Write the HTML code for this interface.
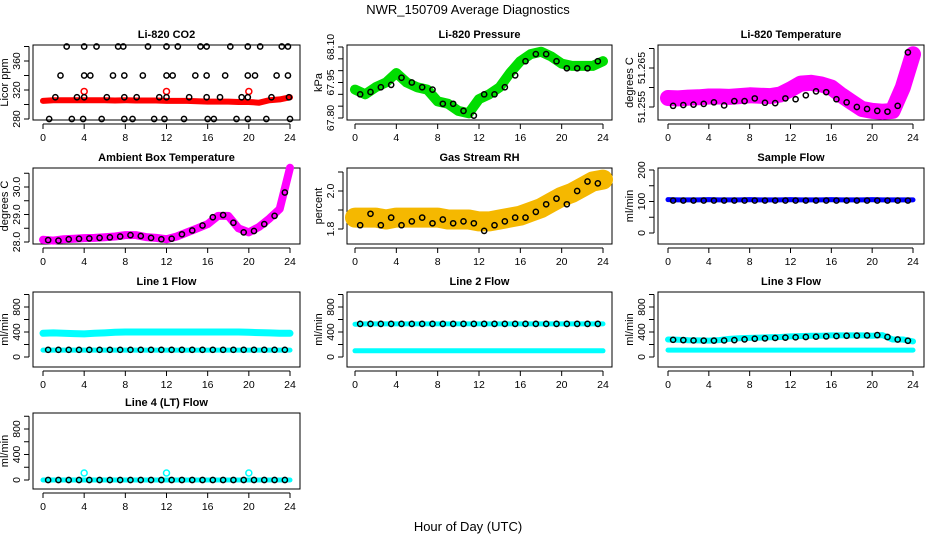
<!DOCTYPE html>
<html><head><meta charset="utf-8"><style>
html,body{margin:0;padding:0;background:#fff;}
svg{display:block;font-family:"Liberation Sans",Arial,sans-serif;}
</style></head><body>
<svg id="fig" width="936" height="540" viewBox="0 0 936 540">
<text x="468" y="14" text-anchor="middle" font-size="13">NWR_150709  Average Diagnostics</text>
<text x="468" y="531" text-anchor="middle" font-size="13">Hour of Day (UTC)</text>
</svg>
<script>
const HALF = [0.5,1.5,2.5,3.5,4.5,5.5,6.5,7.5,8.5,9.5,10.5,11.5,12.5,13.5,14.5,15.5,16.5,17.5,18.5,19.5,20.5,21.5,22.5,23.5];
const FULL = [0,1,2,3,4,5,6,7,8,9,10,11,12,13,14,15,16,17,18,19,20,21,22,23,24];
const xTicks = [0,4,8,12,16,20,24];

const co2Hours = [2.3,4.0,5.2,7.3,7.8,10.2,12.0,13.1,15.3,15.9,18.2,19.9,21.1,23.2,23.8, 1.7,4.0,4.6,6.8,7.9,9.7,12.0,12.6,14.8,15.9,17.7,19.9,20.6,22.7,23.8, 1.2,3.3,4.0,6.2,7.9,9.1,11.3,12.0,14.2,15.9,17.2,19.3,19.9,22.2,23.9, 0.6,2.8,3.9,5.7,7.9,8.7,10.8,11.8,13.7,16.0,16.6,18.8,19.9,21.7,24.0];
const co2Black = [380,380,380,380,380,380,380,380,380,380,380,380,380,380,380, 340,340,340,340,340,340,340,340,340,340,340,340,340,340,340, 310,310,310,310,310,310,310,310,310,310,310,310,310,310,310, 280,280,280,280,280,280,280,280,280,280,280,280,280,280,280];
const co2Band = [305,306,306,306,306,306,306,305.5,306,305.5,305.5,305.5,305,305,305,304.5,304,304,304,303.5,303.5,302.5,306,307,310];
const co2OutHours = [4,12,20];
const co2Out = [318,318,318];

const presBand = [67.92,67.90,67.93,67.95,67.99,67.95,67.93,67.92,67.87,67.86,67.83,67.82,67.88,67.90,67.93,67.99,68.04,68.07,68.08,68.06,68.03,68.02,68.02,68.02,68.04];
const presBlack = [67.90,67.91,67.93,67.94,67.97,67.95,67.93,67.92,67.86,67.86,67.83,67.81,67.90,67.90,67.93,67.98,68.04,68.07,68.07,68.04,68.01,68.01,68.01,68.04];

const tempBand = [51.2573,51.2572,51.2574,51.2575,51.2577,51.2577,51.2576,51.2578,51.258,51.2579,51.2578,51.2582,51.2595,51.261,51.2612,51.2608,51.260,51.258,51.2562,51.2545,51.254,51.2538,51.254,51.260,51.2685];
const tempBlack = [51.2553,51.2555,51.2556,51.2558,51.2562,51.2554,51.2565,51.2565,51.2572,51.2561,51.2560,51.2572,51.2570,51.2580,51.2590,51.2588,51.2570,51.2562,51.2550,51.2545,51.2540,51.2538,51.2553,51.2690];

const ambBand = [28.08,28.05,28.1,28.12,28.14,28.15,28.17,28.2,28.25,28.25,28.18,28.15,28.1,28.2,28.35,28.5,28.65,28.95,28.95,28.5,28.35,28.55,28.85,29.2,30.7];
const ambBlack = [28.07,28.05,28.1,28.12,28.13,28.15,28.17,28.2,28.25,28.22,28.15,28.1,28.12,28.28,28.42,28.6,28.9,28.98,28.7,28.35,28.4,28.65,28.95,29.8];

const rhBand = [1.86,1.86,1.86,1.85,1.86,1.86,1.86,1.86,1.86,1.85,1.85,1.85,1.84,1.84,1.85,1.86,1.87,1.89,1.91,1.94,1.97,1.99,2.02,2.05,2.06];
const rhBlack = [1.82,1.88,1.82,1.86,1.82,1.84,1.86,1.83,1.85,1.83,1.84,1.83,1.79,1.82,1.84,1.86,1.86,1.89,1.93,1.96,1.93,2.0,2.05,2.04];

const sampleBand = [106,105,105,105,106,105,105,105,106,105,105,105,106,105,105,105,106,105,105,105,106,105,105,105,105];
const sampleBlack = [103,103,103,103,103,103,103,103,103,103,103,103,103,103,103,103,103,103,103,103,103,103,103,103];

const l1Upper = [380,385,380,375,370,380,385,395,400,400,400,400,400,400,400,400,400,400,400,400,395,390,385,380,380];
const l1Lower = [110,110,110,110,110,110,110,110,110,110,110,110,110,110,110,110,110,110,110,110,110,110,110,110,110];
const l1Black = [115,115,115,115,115,115,115,115,115,115,115,115,115,115,115,115,115,115,115,115,115,115,115,115];

const l2Upper = [525,530,530,530,530,530,530,530,530,530,530,530,530,530,530,530,530,530,530,530,530,530,530,530,530];
const l2Lower = [100,100,100,100,100,100,100,100,100,100,100,100,100,100,100,100,100,100,100,100,100,100,100,100,100];
const l2Black = [530,530,530,530,530,530,530,530,530,530,530,530,530,530,530,530,530,530,530,530,530,530,530,530];

const l3Upper = [280,275,268,265,262,270,290,300,305,310,315,320,330,335,340,340,345,345,345,345,340,350,280,280,250];
const l3Lower = [110,110,110,110,110,110,110,110,110,110,110,110,110,110,110,110,110,110,110,110,110,110,110,110,110];
const l3Black = [275,270,265,262,262,265,270,282,292,298,305,310,315,320,325,330,335,340,342,345,350,320,280,260];

const l4Band = [0,0,0,0,0,0,0,0,0,0,0,0,0,0,0,0,0,0,0,0,0,0,0,0,0];
const l4Black = [0,0,0,0,0,0,0,0,0,0,0,0,0,0,0,0,0,0,0,0,0,0,0,0];
const l4OutHours = [4,12,20];
const l4Out = [110,110,110];

const NS = "http://www.w3.org/2000/svg";
const svg = document.getElementById('fig');
function mk(tag, attrs, parent){const e=document.createElementNS(NS,tag);for(const k in attrs)e.setAttribute(k,attrs[k]);(parent||svg).appendChild(e);return e;}

const COLS = [{l:33,r:300,x0:43,x24:290},{l:347,r:612,x0:355,x24:603},{l:658,r:924,x0:668,x24:913}];
const ROWS = [{t:45,b:120},{t:168,b:244},{t:292,b:367},{t:413,b:489}];

function panel(cfg){
  const C=COLS[cfg.col], R=ROWS[cfg.row];
  const g=mk('g',{});
  
  
  const xs=h=>C.x0+(h/24)*(C.x24-C.x0);
  const ys=v=>cfg.p1+(v-cfg.v1)*(cfg.p2-cfg.p1)/(cfg.v2-cfg.v1);
  const t=mk('text',{x:(C.l+C.r)/2,y:R.t-7,'text-anchor':'middle','font-size':11,'font-weight':'bold'},g);
  t.textContent=cfg.title;
  
  
  const box=mk('rect',{x:C.l,y:R.t,width:C.r-C.l,height:R.b-R.t,fill:'none',stroke:'#000','stroke-width':1},g);
  
  
  const xa=mk('g',{},g);
  
  
  mk('line',{x1:xs(0),x2:xs(24),y1:R.b+4,y2:R.b+4,stroke:'#000'},xa);
  xTicks.forEach(h=>{
    mk('line',{x1:xs(h),x2:xs(h),y1:R.b+4,y2:R.b+9,stroke:'#000'},xa);
    const tl=mk('text',{x:xs(h),y:R.b+21,'text-anchor':'middle','font-size':10.5},xa);
    tl.textContent=h;
  });
  const ya=mk('g',{},g);
  
  
  const ax=C.l-4;
  mk('line',{x1:ax,x2:ax,y1:ys(cfg.ticks[0]),y2:ys(cfg.ticks[cfg.ticks.length-1]),stroke:'#000'},ya);
  cfg.ticks.forEach(v=>{mk('line',{x1:ax-5,x2:ax,y1:ys(v),y2:ys(v),stroke:'#000'},ya);});
  cfg.labels.forEach(v=>{
    const y=ys(v);
    const tl=mk('text',{x:ax-9,y:y,'text-anchor':'middle','font-size':10.5,transform:`rotate(-90 ${ax-9} ${y})`},ya);
    tl.textContent=cfg.fmt?cfg.fmt(v):v;
  });
  const yl=mk('text',{x:C.l-25,y:(R.t+R.b)/2,'text-anchor':'middle','font-size':11,transform:`rotate(-90 ${C.l-25} ${(R.t+R.b)/2})`},g);
  yl.textContent=cfg.ylab;
  
  
  cfg.bands.forEach(b=>{
    const pts=b.vals.map((v,i)=>xs(FULL[i]).toFixed(1)+','+ys(v).toFixed(1)).join(' ');
    const pl=mk('polyline',{points:pts,fill:'none',stroke:b.color,'stroke-width':b.w,'stroke-linejoin':'round','stroke-linecap':'round'},g);
    
    
  });
  (cfg.outs||[]).forEach(o=>{
    o.vals.forEach((v,i)=>{
      const c=mk('circle',{cx:xs(o.hours[i]),cy:ys(v),r:3,fill:'none',stroke:o.color,'stroke-width':1.5},g);
      
      
    });
  });
  const bh=cfg.blackHours||HALF;
  cfg.black.forEach((v,i)=>{
    const c=mk('circle',{cx:xs(bh[i]),cy:ys(v),r:2.6,fill:'none',stroke:'#000','stroke-width':1.5},g);
    
    
  });
}

const flowTicks=[0,200,400,600,800,1000], flowLabels=[0,400,800];
panel({name:'co2-panel',col:0,row:0,title:'Li-820 CO2',ylab:'Licor ppm',v1:280,p1:119,v2:360,p2:61,ticks:[280,300,320,340,360,380],labels:[280,320,360],
  bands:[{name:'co2-band',vals:co2Band,color:'#ff0000',w:6}],outs:[{hours:co2OutHours,vals:co2Out,color:'#ff0000'}],black:co2Black,blackHours:co2Hours});
panel({name:'pressure-panel',col:1,row:0,title:'Li-820 Pressure',ylab:'kPa',v1:67.80,p1:118,v2:68.10,p2:47,ticks:[67.80,67.85,67.90,67.95,68.00,68.05,68.10],labels:[67.80,67.95,68.10],fmt:v=>v.toFixed(2),
  bands:[{name:'pressure-band',vals:presBand,color:'#00dd00',w:10}],black:presBlack});
panel({name:'temperature-panel',col:2,row:0,title:'Li-820 Temperature',ylab:'degrees C',v1:51.255,p1:107,v2:51.265,p2:68,ticks:[51.255,51.26,51.265,51.27],labels:[51.255,51.265],fmt:v=>v.toFixed(3),
  bands:[{name:'temperature-band',vals:tempBand,color:'#ff00ff',w:16}],black:tempBlack});
panel({name:'ambient-panel',col:0,row:1,title:'Ambient Box Temperature',ylab:'degrees C',v1:28.0,p1:242,v2:30.0,p2:187,ticks:[28,28.5,29,29.5,30,30.5],labels:[28,29,30],fmt:v=>v.toFixed(1),
  bands:[{name:'ambient-band',vals:ambBand,color:'#ff00ff',w:8}],black:ambBlack});
panel({name:'rh-panel',col:1,row:1,title:'Gas Stream RH',ylab:'percent',v1:1.8,p1:229,v2:2.0,p2:191,ticks:[1.8,1.9,2.0,2.1],labels:[1.8,2.0],fmt:v=>v.toFixed(1),
  bands:[{name:'rh-band',vals:rhBand,color:'#f5b800',w:20}],black:rhBlack});
panel({name:'sample-flow-panel',col:2,row:1,title:'Sample Flow',ylab:'ml/min',v1:0,p1:233,v2:200,p2:170,ticks:[0,50,100,150,200],labels:[0,100,200],
  bands:[{name:'sample-band',vals:sampleBand,color:'#0000ff',w:5}],black:sampleBlack});
panel({name:'line1-panel',col:0,row:2,title:'Line 1 Flow',ylab:'ml/min',v1:0,p1:357,v2:800,p2:307,ticks:flowTicks,labels:flowLabels,
  bands:[{name:'line1-upper',vals:l1Upper,color:'#00ffff',w:7},{name:'line1-lower',vals:l1Lower,color:'#00ffff',w:5}],black:l1Black});
panel({name:'line2-panel',col:1,row:2,title:'Line 2 Flow',ylab:'ml/min',v1:0,p1:357,v2:800,p2:307,ticks:flowTicks,labels:flowLabels,
  bands:[{name:'line2-upper',vals:l2Upper,color:'#00ffff',w:5},{name:'line2-lower',vals:l2Lower,color:'#00ffff',w:5}],black:l2Black});
panel({name:'line3-panel',col:2,row:2,title:'Line 3 Flow',ylab:'ml/min',v1:0,p1:357,v2:800,p2:307,ticks:flowTicks,labels:flowLabels,
  bands:[{name:'line3-upper',vals:l3Upper,color:'#00ffff',w:6},{name:'line3-lower',vals:l3Lower,color:'#00ffff',w:5}],black:l3Black});
panel({name:'line4-panel',col:0,row:3,title:'Line 4 (LT) Flow',ylab:'ml/min',v1:0,p1:480,v2:800,p2:429,ticks:flowTicks,labels:flowLabels,
  bands:[{name:'line4-band',vals:l4Band,color:'#00ffff',w:5}],outs:[{hours:l4OutHours,vals:l4Out,color:'#00ffff'}],black:l4Black});
</script>
</body></html>
